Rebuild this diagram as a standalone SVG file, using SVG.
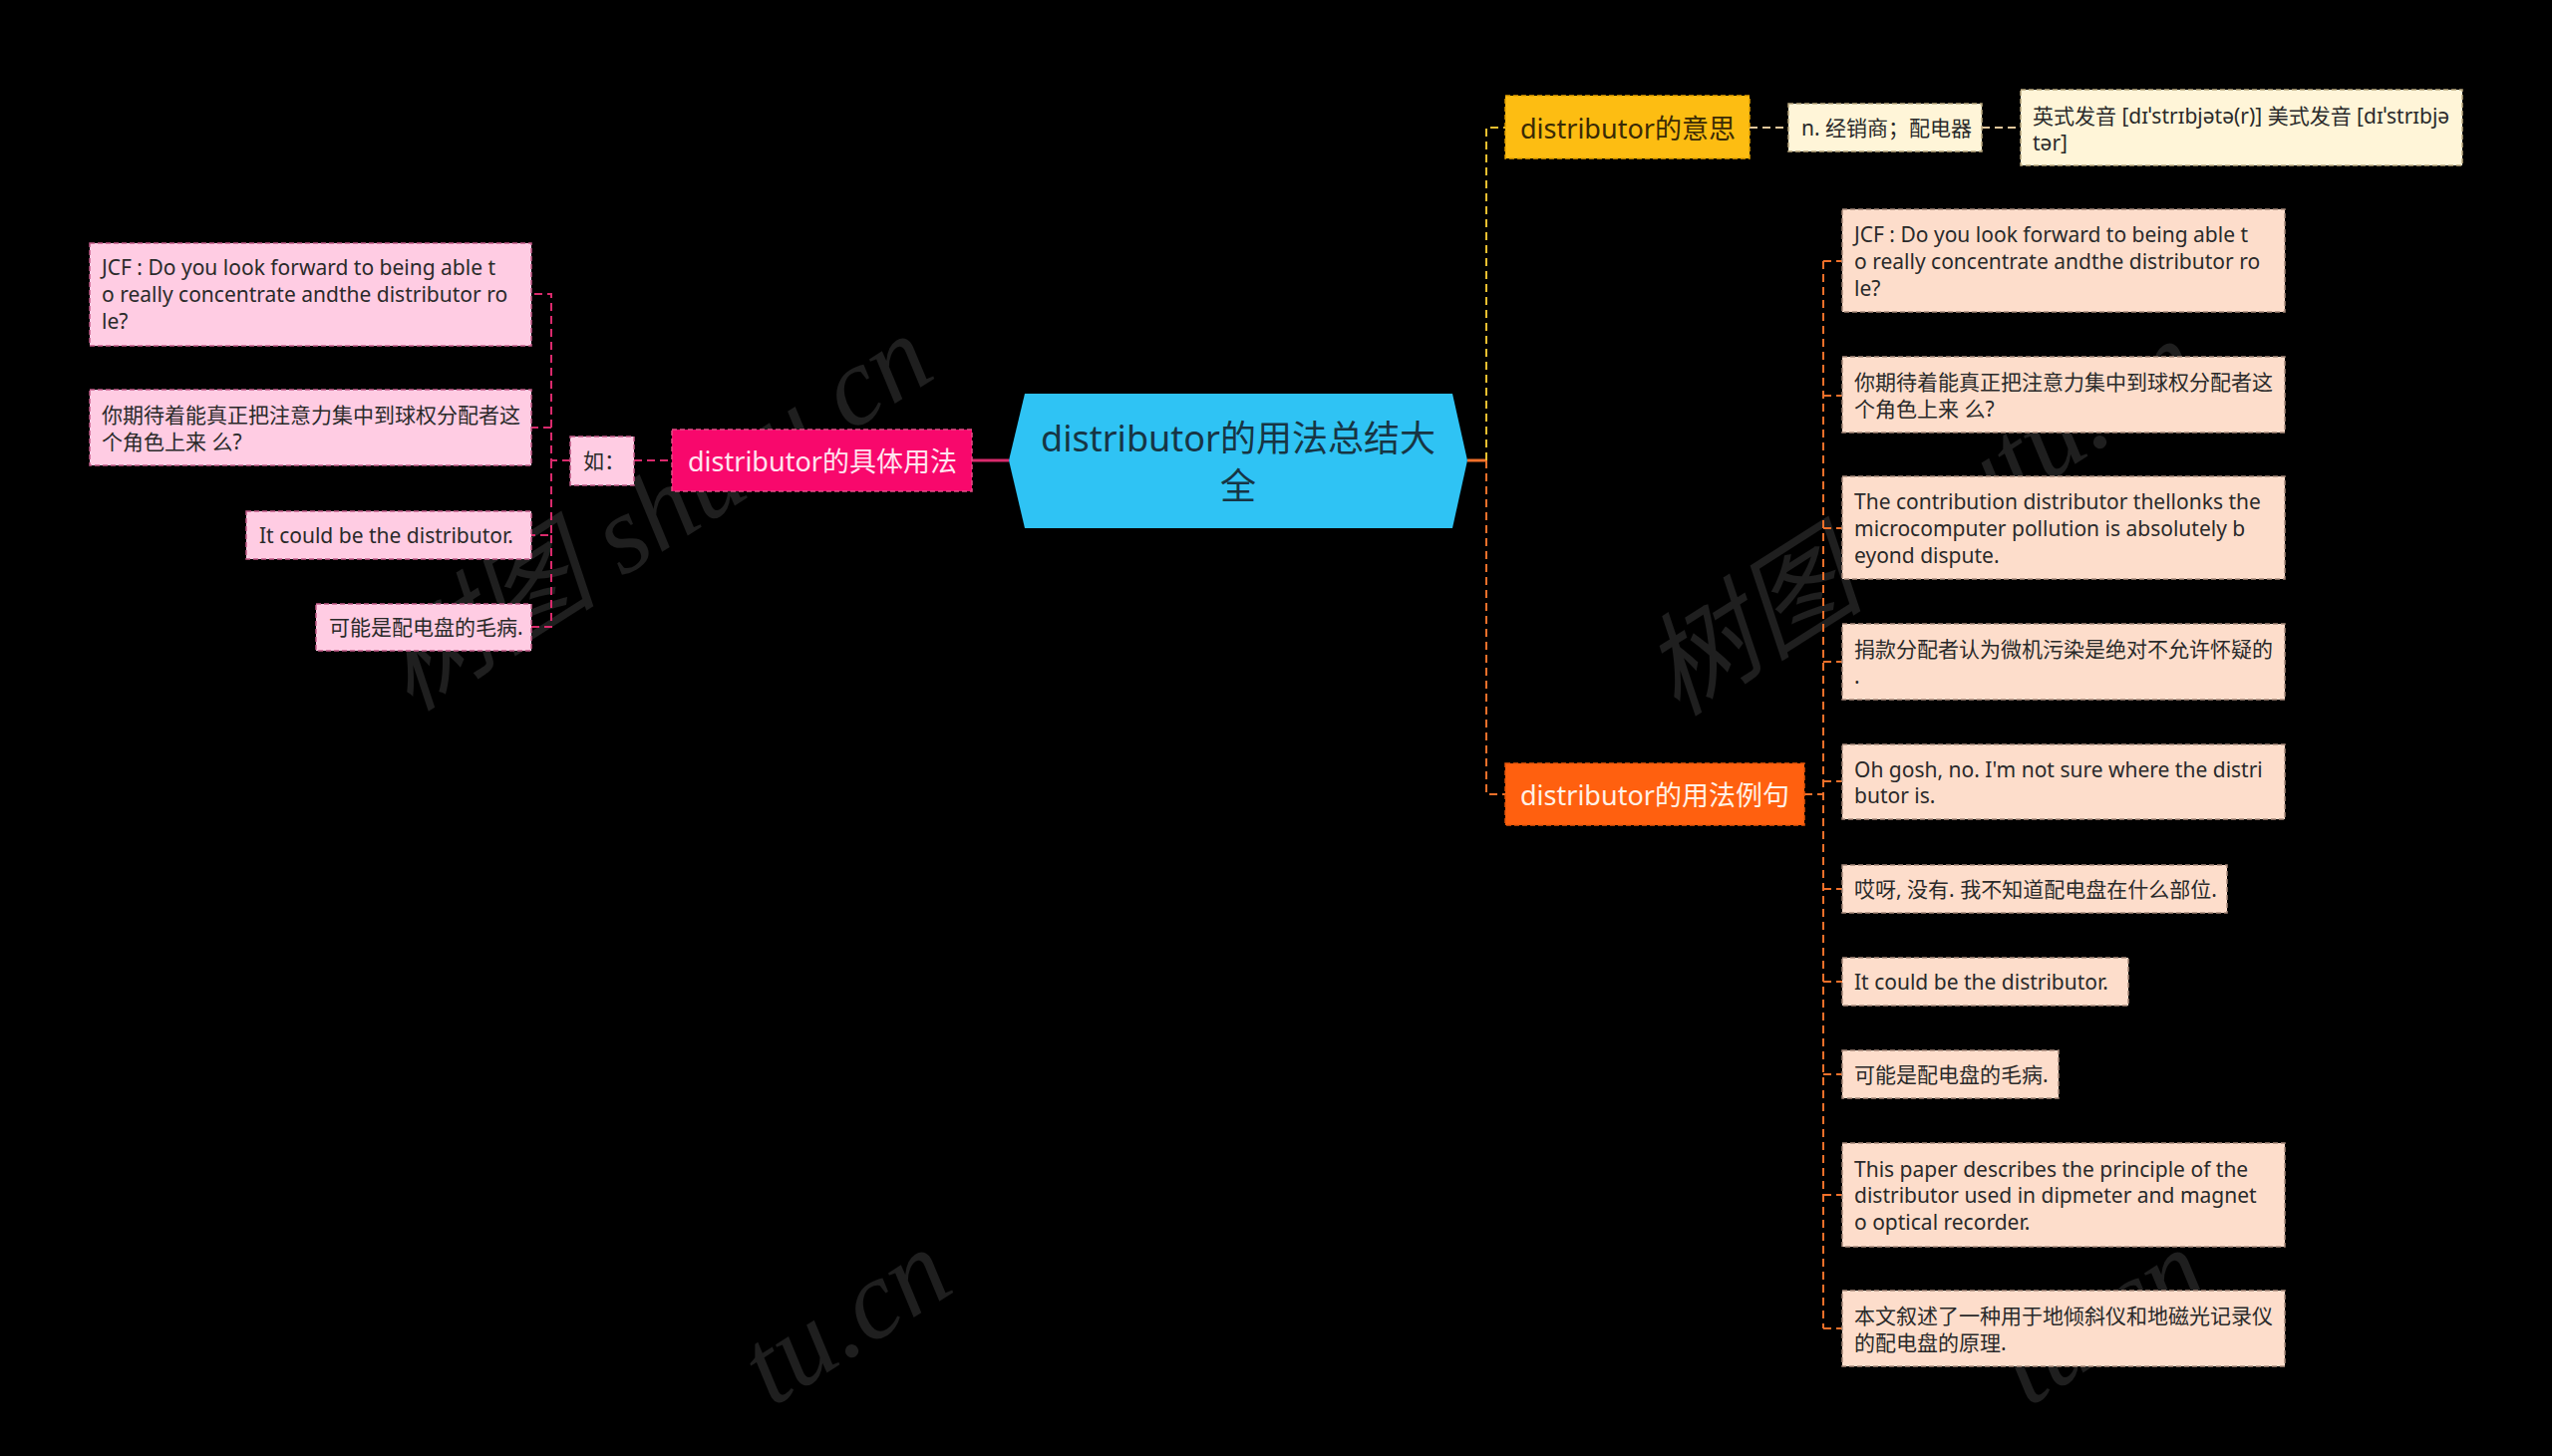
<svg xmlns="http://www.w3.org/2000/svg" width="2560" height="1461" viewBox="0 0 2560 1461">
<style>
text{font-family:"Noto Sans","Noto Sans CJK SC",sans-serif;dominant-baseline:central}
.wm{font-family:"Liberation Serif","Noto Sans CJK SC",serif;font-size:112px;fill:#1f1f1f;font-style:italic}
.leaf{font-size:21px;fill:#2a2a2a}
.pl{fill:#FFCCE3;stroke:#C25A88;stroke-width:1.5;stroke-dasharray:5 3}
.pe{fill:#FDDDCB;stroke:#A88A7C;stroke-width:1.5;stroke-dasharray:5 3}
.cr{fill:#FFF5D8;stroke:#B8A77E;stroke-width:1.5;stroke-dasharray:5 3}
.c{fill:none;stroke-width:2;stroke-dasharray:8 5}
.cp{stroke:#D92A6C}
.cy{stroke:#EFC030}
.co{stroke:#F0702A}
.cc{stroke:#E2C79C}
</style>
<rect width="2560" height="1461" fill="#000"/>
<g id="watermarks">
<text class="wm" x="656" y="514" text-anchor="middle" transform="rotate(-32.5 656 514)">树图 shutu.cn</text>
<text class="wm" x="1927" y="519" text-anchor="middle" transform="rotate(-32.5 1927 519)">树图 shutu.cn</text>
<text class="wm" x="940" y="1262" text-anchor="end" transform="rotate(-32.5 940 1262)">tu.cn</text>
<text class="wm" x="2200" y="1262" text-anchor="end" transform="rotate(-32.5 2200 1262)">tu.cn</text>
</g>
<g id="connectors">
<path class="c cp" d="M572 462H553V295H533M553 429H533M553 462V537H533M553 537V629H533"/>
<path class="c cp" d="M636 462H674"/>
<path d="M975 462H1012" stroke="#D92A6C" stroke-width="3" fill="none"/>
<path d="M1472 462H1491" stroke="#F0702A" stroke-width="3" fill="none"/>
<path class="c cy" d="M1491 462V128H1510"/>
<path class="c co" d="M1491 462V797H1510"/>
<path class="c cc" d="M1755 128H1794M1988 128H2027"/>
<path class="c co" d="M1810 797H1829M1829 262V1333M1829 262H1848M1829 397H1848M1829 530H1848M1829 664H1848M1829 784H1848M1829 892H1848M1829 985H1848M1829 1078H1848M1829 1199H1848M1829 1333H1848"/>
</g>
<g id="root">
<polygon points="1012,462 1028,395 1457,395 1472,462 1457,530 1028,530" fill="#2FC3F4"/>
<text x="1242" y="439" text-anchor="middle" font-size="36" fill="#173544">distributor的用法总结大</text>
<text x="1242" y="487" text-anchor="middle" font-size="36" fill="#173544">全</text>
</g>
<g id="usage">
<rect x="674" y="431" width="301" height="62" fill="#F8086C" stroke="#E24C85" stroke-width="1.5" stroke-dasharray="5 3"/>
<text x="690" y="462" font-size="27" fill="#FFE3EF">distributor的具体用法</text>
</g>
<g id="ru">
<rect class="pl" x="572" y="438" width="64" height="49"/>
<text class="leaf" x="585" y="462">如：</text>
</g>
<g id="l1">
<rect class="pl" x="90" y="244" width="443" height="103"/>
<text class="leaf" x="102" y="268">JCF : Do you look forward to being able t</text>
<text class="leaf" x="102" y="295">o really concentrate andthe distributor ro</text>
<text class="leaf" x="102" y="322">le?</text>
</g>
<g id="l2">
<rect class="pl" x="90" y="391" width="443" height="76"/>
<text class="leaf" x="102" y="416">你期待着能真正把注意力集中到球权分配者这</text>
<text class="leaf" x="102" y="443">个角色上来 么?</text>
</g>
<g id="l3">
<rect class="pl" x="247" y="513" width="286" height="48"/>
<text class="leaf" x="260" y="537">It could be the distributor.</text>
</g>
<g id="l4">
<rect class="pl" x="317" y="606" width="216" height="47"/>
<text class="leaf" x="330" y="629">可能是配电盘的毛病.</text>
</g>
<g id="meaning">
<rect x="1510" y="96" width="245" height="63" fill="#FDBD12" stroke="#E6A200" stroke-width="1.5" stroke-dasharray="5 3"/>
<text x="1525" y="128" font-size="27" fill="#3A2A05">distributor的意思</text>
</g>
<g id="m1">
<rect class="cr" x="1794" y="104" width="194" height="48"/>
<text class="leaf" x="1807" y="128">n. 经销商；配电器</text>
</g>
<g id="m2">
<rect class="cr" x="2027" y="90" width="443" height="76"/>
<text class="leaf" x="2039" y="116">英式发音 [dɪˈstrɪbjətə(r)] 美式发音 [dɪˈstrɪbjə</text>
<text class="leaf" x="2039" y="143">tər]</text>
</g>
<g id="examples">
<rect x="1510" y="766" width="300" height="62" fill="#FF600F" stroke="#E8560A" stroke-width="1.5" stroke-dasharray="5 3"/>
<text x="1525" y="797" font-size="27" fill="#FFF1E6">distributor的用法例句</text>
</g>
<g id="e1">
<rect class="pe" x="1848" y="210" width="444" height="103"/>
<text class="leaf" x="1860" y="235">JCF : Do you look forward to being able t</text>
<text class="leaf" x="1860" y="262">o really concentrate andthe distributor ro</text>
<text class="leaf" x="1860" y="289">le?</text>
</g>
<g id="e2">
<rect class="pe" x="1848" y="358" width="444" height="76"/>
<text class="leaf" x="1860" y="383">你期待着能真正把注意力集中到球权分配者这</text>
<text class="leaf" x="1860" y="410">个角色上来 么?</text>
</g>
<g id="e3">
<rect class="pe" x="1848" y="478" width="444" height="103"/>
<text class="leaf" x="1860" y="503">The contribution distributor thellonks the</text>
<text class="leaf" x="1860" y="530"> microcomputer pollution is absolutely b</text>
<text class="leaf" x="1860" y="557">eyond dispute.</text>
</g>
<g id="e4">
<rect class="pe" x="1848" y="626" width="444" height="76"/>
<text class="leaf" x="1860" y="651">捐款分配者认为微机污染是绝对不允许怀疑的</text>
<text class="leaf" x="1860" y="678">.</text>
</g>
<g id="e5">
<rect class="pe" x="1848" y="747" width="444" height="75"/>
<text class="leaf" x="1860" y="772">Oh gosh, no. I'm not sure where the distri</text>
<text class="leaf" x="1860" y="798">butor is.</text>
</g>
<g id="e6">
<rect class="pe" x="1848" y="868" width="386" height="48"/>
<text class="leaf" x="1860" y="892">哎呀, 没有. 我不知道配电盘在什么部位.</text>
</g>
<g id="e7">
<rect class="pe" x="1848" y="961" width="287" height="48"/>
<text class="leaf" x="1860" y="985">It could be the distributor.</text>
</g>
<g id="e8">
<rect class="pe" x="1848" y="1054" width="217" height="48"/>
<text class="leaf" x="1860" y="1078">可能是配电盘的毛病.</text>
</g>
<g id="e9">
<rect class="pe" x="1848" y="1147" width="444" height="104"/>
<text class="leaf" x="1860" y="1173">This paper describes the principle of the</text>
<text class="leaf" x="1860" y="1199">distributor used in dipmeter and magnet</text>
<text class="leaf" x="1860" y="1226">o optical recorder.</text>
</g>
<g id="e10">
<rect class="pe" x="1848" y="1295" width="444" height="76"/>
<text class="leaf" x="1860" y="1320">本文叙述了一种用于地倾斜仪和地磁光记录仪</text>
<text class="leaf" x="1860" y="1347">的配电盘的原理.</text>
</g>
</svg>
